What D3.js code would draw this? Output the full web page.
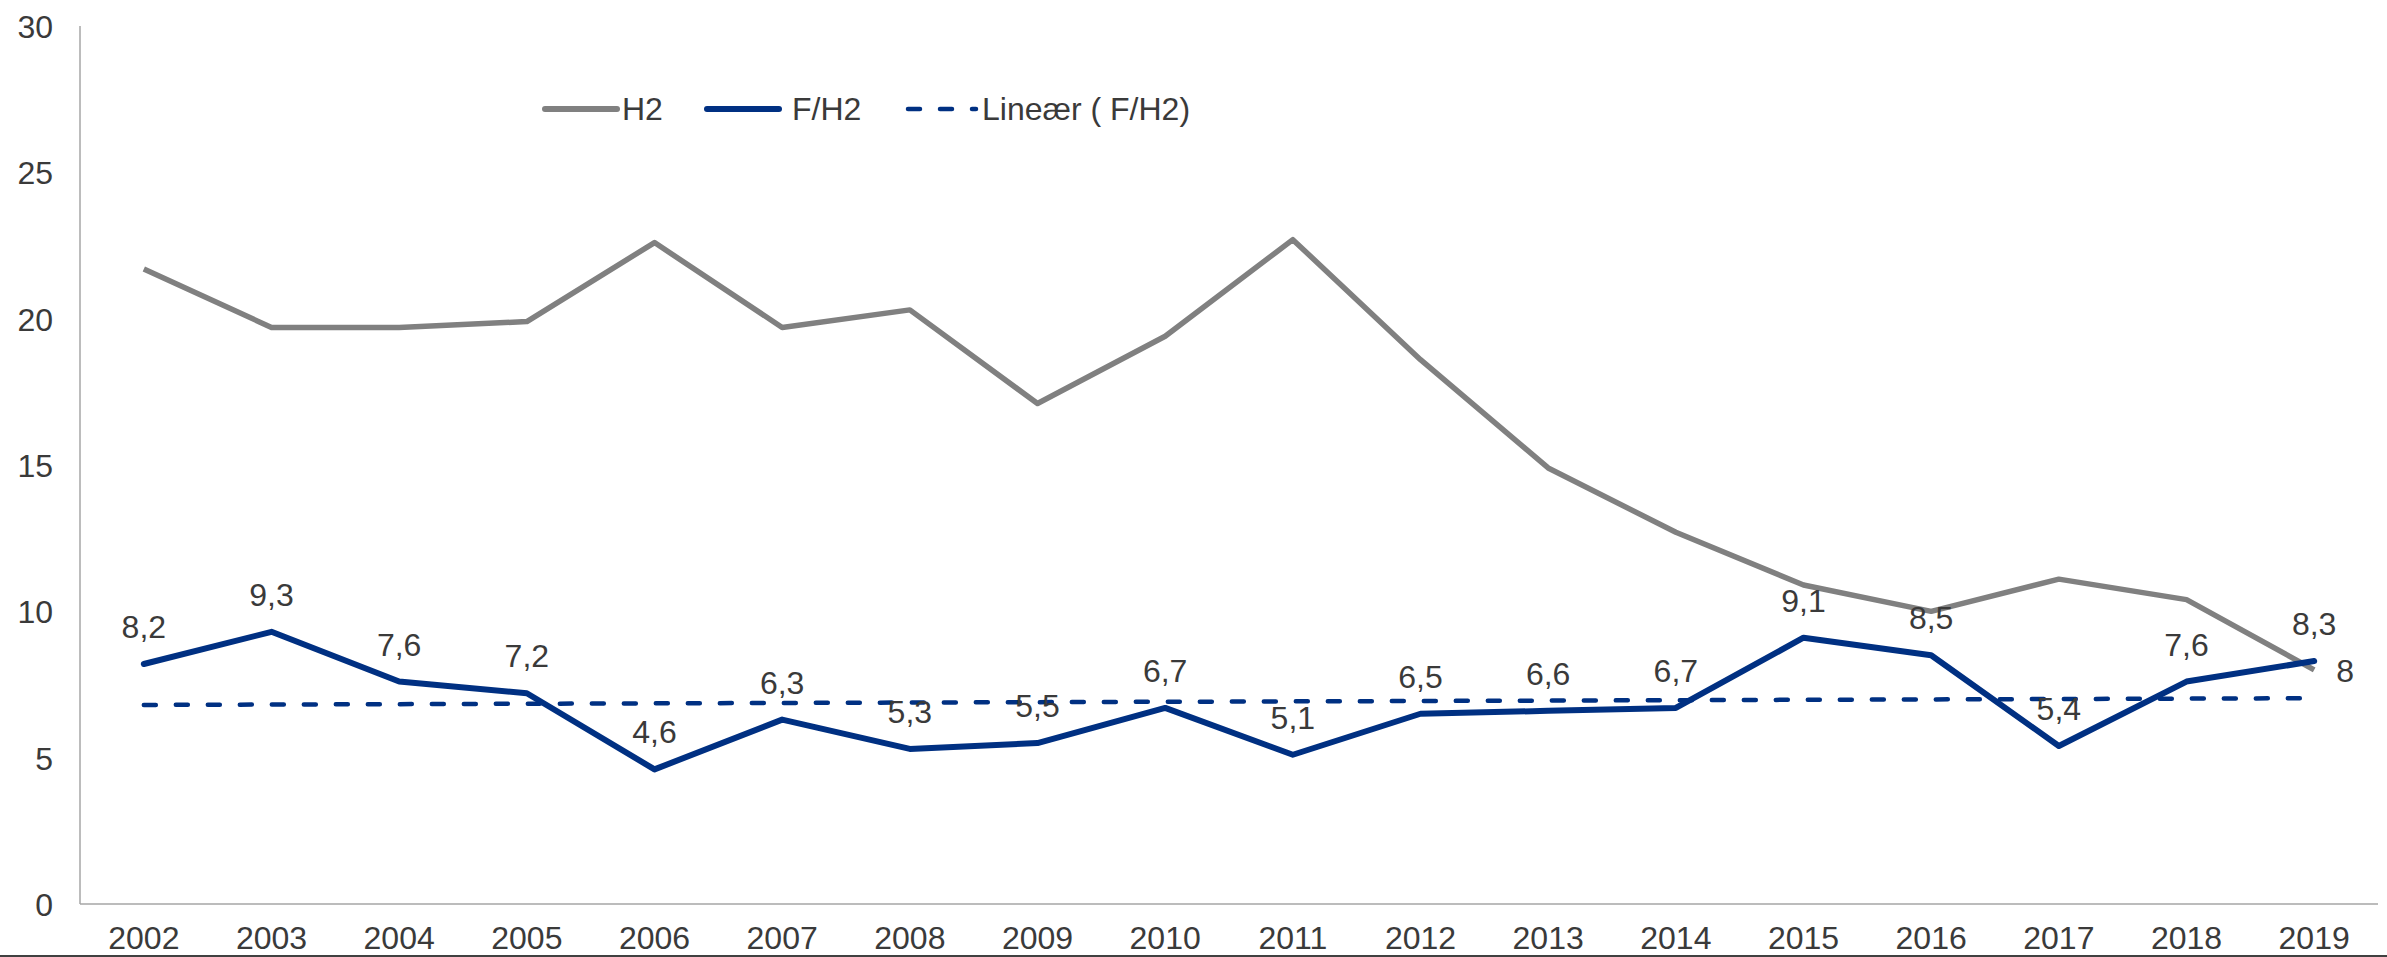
<!DOCTYPE html>
<html>
<head>
<meta charset="utf-8">
<script src="https://cdn.jsdelivr.net/npm/d3@7.9.0/dist/d3.min.js"></script>
<style>
  html, body { margin: 0; padding: 0; background: #fff; }
  svg { display: block; font-family: "Liberation Sans", Arial, sans-serif; }
</style>
</head>
<body>
<svg id="chart" width="2387" height="957"></svg>
<script>
// data
const years = ['2002','2003','2004','2005','2006','2007','2008','2009','2010',
               '2011','2012','2013','2014','2015','2016','2017','2018','2019'];
const h2 = [21.7, 19.7, 19.7, 19.9, 22.6, 19.7, 20.3, 17.1, 19.4,
            22.7, 18.6, 14.9, 12.7, 10.9, 10.0, 11.1, 10.4, 8.0];
const fh2 = [8.2, 9.3, 7.6, 7.2, 4.6, 6.3, 5.3, 5.5, 6.7,
             5.1, 6.5, 6.6, 6.7, 9.1, 8.5, 5.4, 7.6, 8.3];
const yTicks = [0, 5, 10, 15, 20, 25, 30];
const legendItems = ['H2', 'F/H2', 'Lineær ( F/H2)'];

const grey = '#808080';
const navy = '#003082';
const textCol = '#3a3a3a';
const axisCol = '#a6a6a6';
const fs = 32;

const svg = d3.select('#chart');
const plotLeft = 80, plotRight = 2378, plotTop = 26, plotBottom = 904;

const x = d3.scalePoint().domain(years).range([plotLeft, plotRight]).padding(0.5);
const y = d3.scaleLinear().domain([0, 30]).range([plotBottom, plotTop]);

// axes
svg.append('line')
  .attr('x1', plotLeft).attr('x2', plotLeft).attr('y1', plotTop).attr('y2', plotBottom)
  .attr('stroke', axisCol).attr('stroke-width', 1.5);
svg.append('line')
  .attr('x1', plotLeft).attr('x2', plotRight).attr('y1', plotBottom).attr('y2', plotBottom)
  .attr('stroke', axisCol).attr('stroke-width', 1.5);

svg.selectAll('.ytick').data(yTicks).enter().append('text')
  .attr('class', 'ytick')
  .attr('x', 53).attr('y', d => y(d) + 12)
  .attr('text-anchor', 'end')
  .attr('font-size', fs).attr('fill', textCol)
  .text(d => d);

svg.selectAll('.xtick').data(years).enter().append('text')
  .attr('class', 'xtick')
  .attr('x', d => x(d)).attr('y', 949)
  .attr('text-anchor', 'middle')
  .attr('font-size', fs).attr('fill', textCol)
  .text(d => d);

// linear trend of F/H2 (least squares, like the spreadsheet trendline)
let n = fh2.length;
let mx = d3.mean(fh2, (d, i) => i), my = d3.mean(fh2);
let sxy = d3.sum(fh2, (d, i) => (i - mx) * (d - my));
let sxx = d3.sum(fh2, (d, i) => (i - mx) * (i - mx));
let slope = sxy / sxx, icpt = my - slope * mx;
let trend = [0, n - 1].map(i => ({ i, v: icpt + slope * i }));

const line = d3.line().x(d => x(years[d.i])).y(d => y(d.v));

svg.append('path')
  .attr('d', line(h2.map((v, i) => ({ i, v }))))
  .attr('fill', 'none').attr('stroke', grey).attr('stroke-width', 5.5)
  .attr('stroke-linejoin', 'round');

svg.append('path')
  .attr('d', line(trend))
  .attr('fill', 'none').attr('stroke', navy).attr('stroke-width', 4.5)
  .attr('stroke-dasharray', '12,20').attr('stroke-linecap', 'round');

svg.append('path')
  .attr('d', line(fh2.map((v, i) => ({ i, v }))))
  .attr('fill', 'none').attr('stroke', navy).attr('stroke-width', 6)
  .attr('stroke-linejoin', 'round').attr('stroke-linecap', 'round');

// data labels
const fmt = v => String(v).replace('.', ',');
svg.selectAll('.lbl').data(fh2).enter().append('text')
  .attr('class', 'lbl')
  .attr('x', (d, i) => x(years[i])).attr('y', d => y(d) - 26)
  .attr('text-anchor', 'middle')
  .attr('font-size', fs).attr('fill', textCol)
  .text(d => fmt(d));

let last = h2.length - 1;
svg.append('text')
  .attr('x', x(years[last]) + 22).attr('y', y(h2[last]) + 12)
  .attr('font-size', fs).attr('fill', textCol)
  .text(fmt(h2[last]));

// legend
const legY = 109;
const leg = [
  { x0: 545, tx: 622, color: grey, w: 6, dash: null },
  { x0: 707, tx: 792, color: navy, w: 6, dash: null },
  { x0: 908, tx: 982, color: navy, w: 4.5, dash: '12,20' }
];
leg.forEach((d, i) => {
  svg.append('line')
    .attr('x1', d.x0).attr('x2', d.x0 + (d.dash ? 68 : 72))
    .attr('y1', legY).attr('y2', legY)
    .attr('stroke', d.color).attr('stroke-width', d.w)
    .attr('stroke-linecap', 'round')
    .attr('stroke-dasharray', d.dash);
  svg.append('text')
    .attr('x', d.tx).attr('y', legY + 11)
    .attr('font-size', fs).attr('fill', textCol)
    .text(legendItems[i]);
});

// dark rule along the bottom edge
svg.append('rect')
  .attr('x', 0).attr('y', 955).attr('width', 2387).attr('height', 2)
  .attr('fill', '#404040');
</script>
</body>
</html>
